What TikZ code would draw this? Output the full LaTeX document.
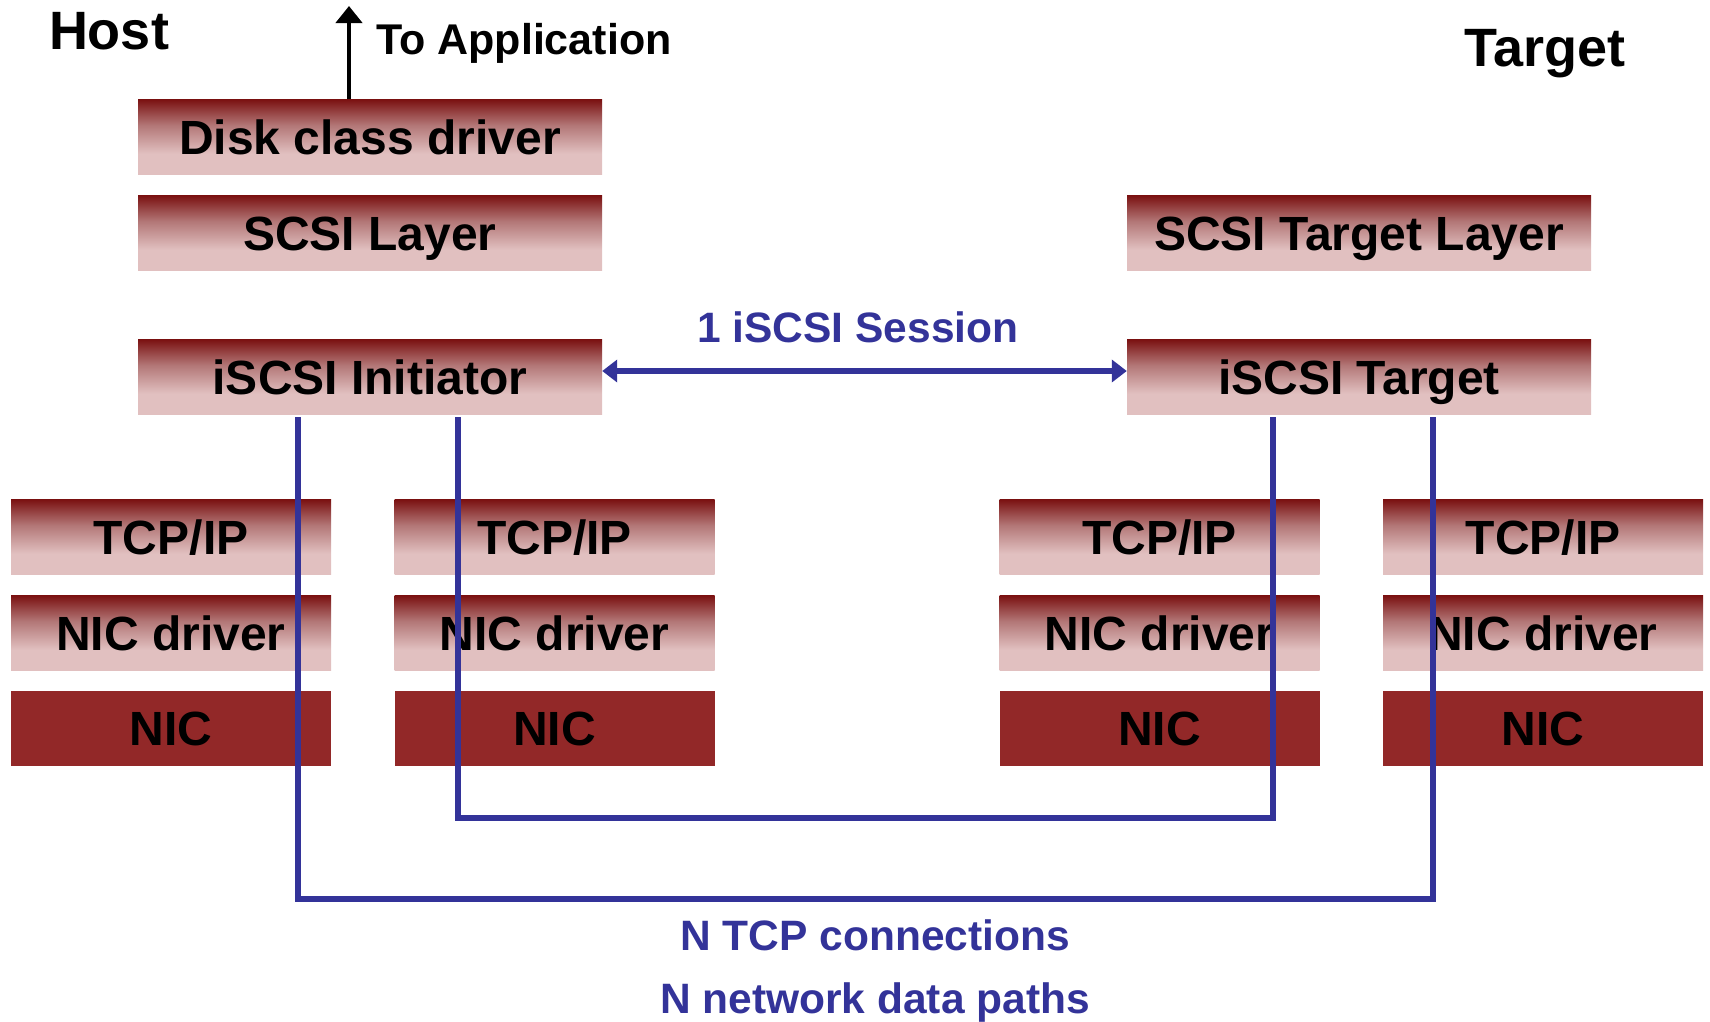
\documentclass[tikz,border=0pt]{standalone}
\usepackage{fontspec}
\setmainfont{Liberation Sans}
\usetikzlibrary{arrows.meta}
\definecolor{darkc}{RGB}{122,16,16}
\definecolor{m2c}{RGB}{178,118,118}
\definecolor{pinkc}{RGB}{225,192,192}
\definecolor{nicc}{RGB}{146,40,40}
\definecolor{bluec}{RGB}{51,51,153}
\pgfdeclareverticalshading{layershade}{100bp}{color(0bp)=(pinkc); color(39bp)=(pinkc); color(58bp)=(m2c); color(75bp)=(darkc); color(100bp)=(darkc)}
\tikzset{
  basebox/.style={rectangle, inner sep=0pt, minimum height=75.5pt,
    font=\bfseries\fontsize{48}{48}\selectfont, text height=34.4pt, text depth=0pt},
  layer/.style={basebox, shading=layershade, minimum width=464pt},
  collayer/.style={basebox, shading=layershade, minimum width=320pt},
  nicbox/.style={basebox, fill=nicc, minimum width=320pt},
  blueline/.style={draw=bluec, line width=5.5pt},
  bluelabel/.style={text=bluec, font=\bfseries\fontsize{42.5}{42.5}\selectfont, text height=30.4pt, text depth=0pt, inner sep=0pt},
  blacklabel/.style={font=\bfseries\fontsize{54}{54}\selectfont, text height=38.7pt, text depth=0pt, inner sep=0pt}
}
\begin{document}
\begin{tikzpicture}[x=1pt,y=-1pt]
\useasboundingbox (0,0) rectangle (1710,1021);
% host stack
\node[layer] (disk) at (370,137) {Disk class driver};
\node[layer] (scsi) at (370,233) {SCSI Layer};
\node[layer] (ini) at (370,377) {iSCSI Initiator};
% target stack
\node[layer] (stl) at (1359,233) {SCSI Target Layer};
\node[layer] (tgt) at (1359,377) {iSCSI Target};
% columns
\foreach \n/\cx in {1/171,2/554.5,3/1159.5,4/1543}{
  \node[collayer] (tcp\n) at (\cx,537) {TCP/IP};
  \node[collayer] (drv\n) at (\cx,633) {NIC driver};
  \node[nicbox] (nic\n) at (\cx,728.5) {NIC};
}
% labels
\node[blacklabel] (host) at (109,30) {Host};
\node[blacklabel] (target) at (1545,47) {Target};
\node[blacklabel, font=\bfseries\fontsize{43}{43}\selectfont, text height=30.8pt, anchor=west] (toapp) at (376,39) {To Application};
\node[bluelabel] (sess) at (858,327) {1 iSCSI Session};
\node[bluelabel] (ntcp) at (875,935) {N TCP connections};
\node[bluelabel] (npath) at (875,998.5) {N network data paths};
% to application arrow
\coordinate (ax) at (349,6);
\draw[line width=4.5pt, -{Triangle[length=17pt,width=26pt]}] (disk.north -| ax) -- (ax);
% session arrow
\draw[blueline, {Triangle[length=15pt,width=22pt]}-{Triangle[length=15pt,width=22pt]}]
  ([yshift=6pt]ini.east) -- ([yshift=6pt]tgt.west);
% TCP connections
\coordinate (o1) at (298,899);
\coordinate (o2) at (1433,899);
\coordinate (i1) at (458,818);
\coordinate (i2) at (1273,818);
\draw[blueline, line cap=rect] ([yshift=-5pt]ini.south -| o1) -- (o1) -- (o2) -- ([yshift=-5pt]tgt.south -| o2);
\draw[blueline, line cap=rect] ([yshift=-5pt]ini.south -| i1) -- (i1) -- (i2) -- ([yshift=-5pt]tgt.south -| i2);
\end{tikzpicture}
\end{document}
